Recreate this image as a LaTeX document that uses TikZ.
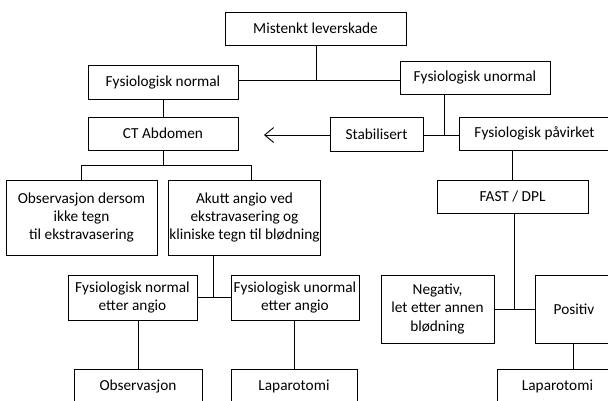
\documentclass[tikz,border=0pt]{standalone}
\usepackage{fontspec}
\setmainfont{Carlito}
\usetikzlibrary{arrows.meta}

\begin{document}
\begin{tikzpicture}[x=1pt, y=-1pt,
	tekst/.style={font=\fontsize{15.3}{18.3}\selectfont},
	boks/.style={draw, line width=0.9pt, inner sep=1pt, align=center, tekst},
	linje/.style={draw, line width=0.9pt}]

\useasboundingbox (0,0) rectangle (608,400);
\clip (0,0) rectangle (608,400);

% Toppnivaa
\node[boks, minimum width=181pt, minimum height=33pt] (mist) at (315.5,28.5) {Mistenkt leverskade};
\node[boks, minimum width=150pt, minimum height=34pt] (fnorm) at (163,82) {Fysiologisk normal};
\node[boks, minimum width=150pt, minimum height=33pt] (funorm) at (475,77.5) {Fysiologisk unormal};

% Andre nivaa
\node[boks, minimum width=150pt, minimum height=33pt] (ct) at (163,133.5) {CT Abdomen};
\node[boks, minimum width=93pt, minimum height=34pt] (stab) at (376.5,134) {Stabilisert};
% boksene ved hoeyre kant gaar ut over bildet
\node[boks, minimum width=181pt, minimum height=33pt,
	label={[tekst, xshift=-15pt]center:Fysiologisk påvirket}] (fpav) at (549.5,133.5) {};
\node[boks, minimum width=151pt, minimum height=33pt] (fast) at (512.5,196.5) {FAST / DPL};

\node[boks, minimum width=151pt, minimum height=75pt] (obsd) at (81.5,217.5)
	{Observasjon dersom\\ikke tegn\\til ekstravasering};
\node[boks, minimum width=151pt, minimum height=75pt] (akutt) at (244.5,217.5)
	{Akutt angio ved\\ekstravasering og\\kliniske tegn til blødning};

% Etter angio
\node[boks, minimum width=129pt, minimum height=45pt] (fnea) at (132.5,297.5) {Fysiologisk normal\\etter angio};
\node[boks, minimum width=128pt, minimum height=45pt] (fuea) at (295,297.5) {Fysiologisk unormal\\etter angio};
\node[boks, minimum width=113pt, minimum height=68pt] (neg) at (437.5,309) {Negativ,\\let etter annen\\blødning};
\node[boks, minimum width=105pt, minimum height=68pt,
	label={[tekst, xshift=-13.5pt]center:Positiv}] (pos) at (587.5,309) {};

% Bunn
\node[boks, minimum width=128pt, minimum height=34pt] (obs) at (138,386) {Observasjon};
\node[boks, minimum width=126pt, minimum height=34pt] (lap1) at (294,386) {Laparotomi};
\node[boks, minimum width=143pt, minimum height=34pt,
	label={[tekst, xshift=-11pt]center:Laparotomi}] (lap2) at (568.5,386) {};

% Knutepunkt
\coordinate (k1) at (316,80);
\coordinate (k2) at (444,135);
\coordinate (k3) at (514,309);
\coordinate (k4) at (163,165);
\coordinate (k5) at (213,297);
\coordinate (k6) at (573,356);
\coordinate (pil) at (264,135);

% Forbindelser
\path[linje] (mist.south -| k1) -- (k1);
\path[linje] (fnorm.east |- k1) -- (funorm.west |- k1);
\path[linje] (fnorm) -- (ct);
\path[linje] (funorm.south -| k2) -- (k2);
\path[linje] (stab.east |- k2) -- (fpav.west |- k2);
\draw[line width=0.9pt, -{Straight Barb[length=9pt, width=15pt, line width=0.9pt]}] (stab.west |- pil) -- (pil);
\path[linje] (fpav.south -| fast) -- (fast);
\path[linje] (fast.south -| k3) -- (k3);
\path[linje] (neg.east |- k3) -- (pos.west |- k3);
\path[linje] (pos.south -| k6) -- (lap2.north -| k6);

\path[linje] (ct.south) -- (k4);
\path[linje] (obsd.north) -- (obsd.north |- k4) -- ([xshift=7pt]akutt.north |- k4) -- ([xshift=7pt]akutt.north);
\path[linje] (akutt.south -| k5) -- (k5);
\path[linje] (fnea.east |- k5) -- (fuea.west |- k5);
\path[linje] (fnea.south -| obs) -- (obs);
\path[linje] (fuea.south -| lap1) -- (lap1);
\end{tikzpicture}
\end{document}
